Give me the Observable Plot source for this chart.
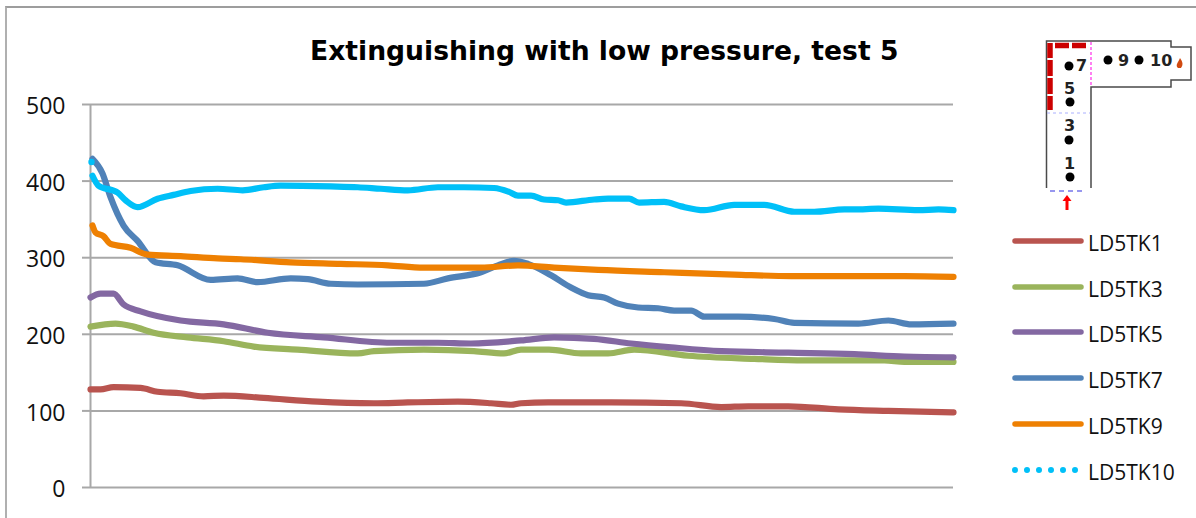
<!DOCTYPE html>
<html>
<head>
<meta charset="utf-8">
<script src="https://cdn.jsdelivr.net/npm/d3@7"></script>
<script src="https://cdn.jsdelivr.net/npm/@observablehq/plot@0.6"></script>
<style>
  html, body { margin: 0; padding: 0; background: #fff; }
  #page { position: relative; width: 1196px; height: 518px; overflow: hidden; }
  #frame { position: absolute; left: 5px; top: 6px; width: 1191px; height: 512px; box-sizing: border-box;
           border-top: 2px solid #9d9d9d; border-left: 2px solid #b0b0b0; }
  #title { position: absolute; left: 310px; top: 35px; margin: 0; font: bold 26.6px "DejaVu Sans", sans-serif; color: #000; white-space: nowrap; }
  #chart { position: absolute; left: 0; top: 0; }
  #legend { position: absolute; left: 1012px; top: 218px; font: 21px "Open Sans", sans-serif; color: #111; }
  .item { display: flex; align-items: center; height: 45.8px; }
  .item svg { width: 72px; height: 8px; margin-right: 4px; display: block; }
  .item span { position: relative; top: 2px; }
  #plan { position: absolute; left: 1040px; top: 36px; }
</style>
</head>
<body>
<div id="page">
  <div id="frame"></div>
  <h1 id="title">Extinguishing with low pressure, test 5</h1>
  <div id="chart"></div>
  <svg id="plan" width="156" height="180" viewBox="1040 36 156 180">
    <g fill="none" stroke="#4a4a4a" stroke-width="1.5">
      <path d="M1046.5 188V41H1171V47H1191V80H1171V87H1091V188"/>
    </g>
    <path d="M1091 42V85" stroke="#ff55ee" stroke-width="1.5" stroke-dasharray="3 2" fill="none"/>
    <path d="M1047 113H1090" stroke="#aab0ff" stroke-width="1" stroke-dasharray="3 3" fill="none"/>
    <path d="M1050 191H1084" stroke="#3030e0" stroke-width="1.2" stroke-dasharray="5 4" fill="none"/>
    <g stroke="#cc0000" stroke-width="5.5" fill="none">
      <path d="M1050 43V58M1050 60V76M1050 78V94M1050 96V110" stroke-width="5.5"/>
      <path d="M1055 45.5H1069M1072 45.5H1086"/>
    </g>
    <g fill="#000">
      <circle cx="1069" cy="66" r="4.5"/><circle cx="1070" cy="102" r="4.5"/>
      <circle cx="1069" cy="140" r="4.5"/><circle cx="1070" cy="177" r="4.5"/>
      <circle cx="1108" cy="60" r="4.5"/><circle cx="1139" cy="60" r="4.5"/>
    </g>
    <g font-family="DejaVu Sans, sans-serif" font-size="16" font-weight="bold" fill="#222">
      <text x="1076" y="71">7</text><text x="1064" y="94">5</text>
      <text x="1064" y="131">3</text><text x="1064" y="169">1</text>
      <text x="1118" y="66">9</text><text x="1150" y="66">10</text>
    </g>
    <path d="M1178 68c-3-3 0-5 2-10c2 3 4 6 1 10z" fill="#d04a10"/>
    <path d="M1067 210V199" stroke="#ff0000" stroke-width="3"/>
    <path d="M1062.5 201L1067 195L1071.5 201z" fill="#ff0000"/>
  </svg>
  <div id="legend"></div>
</div>
<script>
const yTicks = [0, 100, 200, 300, 400, 500];
const seriesNames = ["LD5TK1", "LD5TK3", "LD5TK5", "LD5TK7", "LD5TK9", "LD5TK10"];
const seriesColors = ["#b9544f", "#9ab45c", "#8368a2", "#5082b8", "#ee8002", "#00c0f8"];

const tk1X = [0,10,23,50,67,90,113,133,173,227,283,317,367,400,420,430,457,520,590,630,657,697,747,797,862];
const tk1Y = [128,128,131,130,125,123,119,120,117,112,110,111,112,110,108,110,111,111,110,105,106,106,102,100,98];

const tk3X = [0,25,43,63,97,133,163,207,267,283,333,383,413,430,458,490,517,543,597,663,713,793,813,862];
const tk3Y = [210,214,210,202,196,191,184,180,175,178,180,178,175,180,180,175,175,180,172,168,166,166,164,164];

const tk5X = [0,10,23,33,50,90,133,177,233,300,347,380,430,463,503,540,580,630,697,763,813,862];
const tk5Y = [248,253,253,239,230,218,213,202,196,189,189,188,192,196,194,188,183,178,176,174,171,170];

const tk7X = [2,12,20,33,47,65,87,120,147,167,200,217,240,267,333,357,390,407,423,437,460,480,497,513,527,547,567,583,600,613,647,683,703,767,797,820,862];
const tk7Y = [429,410,379,342,322,294,290,271,273,268,273,272,266,265,266,273,281,290,296,292,277,261,251,248,240,235,234,231,231,223,223,220,215,214,218,213,214];

const tk9X = [2,5,13,20,40,57,90,127,150,200,250,297,333,390,427,463,507,573,643,700,813,862];
const tk9Y = [342,333,328,318,313,304,302,299,298,294,292,290,287,287,290,287,284,281,278,276,276,275];

const tk10X = [2,8,27,35,47,67,83,100,127,152,173,190,240,267,290,317,347,373,403,418,427,440,453,467,475,503,517,538,548,573,590,613,643,673,703,723,753,763,787,827,847,862];
const tk10Y = [407,394,385,375,366,377,382,387,390,388,392,394,393,392,390,388,392,392,391,386,381,381,376,375,372,376,377,377,372,373,367,362,369,369,360,360,363,363,364,362,363,362];
const tk10Start = [{x: 1, y: 425}];

const xSeries = [tk1X, tk3X, tk5X, tk7X, tk9X, tk10X];
const ySeries = [tk1Y, tk3Y, tk5Y, tk7Y, tk9Y, tk10Y];
const rows = seriesNames.flatMap((name, s) =>
  xSeries[s].map((x, i) => ({series: name, x, y: ySeries[s][i]})));

const gridColor = "#a8a8a8";
const chart = Plot.plot({
  width: 1196,
  height: 518,
  marginLeft: 90,
  marginRight: 243,
  marginTop: 104,
  marginBottom: 31,
  style: {background: "transparent", overflow: "visible"},
  x: {domain: [0, 862], axis: null},
  y: {domain: [0, 500], nice: false},
  color: {domain: seriesNames, range: seriesColors},
  marks: [
    Plot.ruleY(yTicks, {stroke: gridColor, strokeWidth: 2}),
    Plot.ruleX([0], {stroke: gridColor, strokeWidth: 2}),
    Plot.axisY({
      ticks: yTicks, tickSize: 8, tickPadding: 17, fontSize: 23, label: null,
      stroke: gridColor, strokeWidth: 2, fill: "#111",
      fontFamily: "Open Sans, sans-serif", textStroke: "none", marker: null
    }),
    Plot.line(rows, {
      x: "x", y: "y", z: "series", stroke: "series", strokeWidth: 6.2,
      strokeLinecap: "round", strokeLinejoin: "round", curve: "monotone-x"
    }),
    Plot.dot(tk10Start, {x: "x", y: "y", r: 3.2, fill: seriesColors[5]})
  ]
});
document.getElementById("chart").append(chart);
// the tick labels sit slightly below their gridlines in the reference
d3.select(chart).selectAll("[aria-label='y-axis tick label'] text").attr("dy", "0.1em");

const legend = d3.select("#legend");
seriesNames.forEach((name, i) => {
  const item = legend.append("div").attr("class", "item");
  const svg = item.append("svg").attr("viewBox", "0 0 72 8");
  svg.append("line").attr("x1", 3).attr("x2", 69).attr("y1", 4).attr("y2", 4)
    .attr("stroke", seriesColors[i]).attr("stroke-width", i === 5 ? 6 : 5.5)
    .attr("stroke-linecap", "round").attr("stroke-dasharray", i === 5 ? "0 12" : null);
  item.append("span").text(name);
});
</script>
</body>
</html>
